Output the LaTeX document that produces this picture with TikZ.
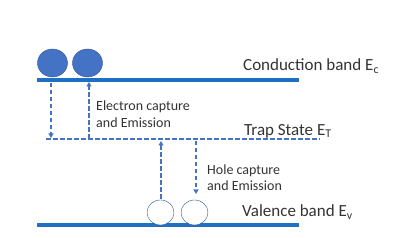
\documentclass[tikz,border=0pt]{standalone}
\usepackage{fontspec}
\setmainfont{Carlito}
\usepackage{xcolor}
\usetikzlibrary{arrows.meta,calc,shapes.geometric}
\definecolor{bandblue}{HTML}{1F6FC2}
\definecolor{officeblue}{HTML}{4472C4}
\definecolor{rimblue}{HTML}{2F528F}
\tikzset{
  bd band/.style={
    line width=4pt,
    draw=bandblue,
  },
  bd trap/.style={
    line width=1.2pt,
    draw=officeblue,
    dash pattern=on 4.5pt off 2.5pt,
  },
  bd electron/.style={
    ellipse,
    minimum width=30pt,
    minimum height=28pt,
    inner sep=0pt,
    fill=officeblue,
    draw=rimblue,
    thin,
  },
  bd hole/.style={
    ellipse,
    minimum width=27pt,
    minimum height=25pt,
    inner sep=0pt,
    fill=white,
    draw=rimblue,
    thin,
  },
  bd arrow/.style={-{Triangle[length=4.5pt,width=5pt]}, bd trap},
  bd label/.style={anchor=west, inner sep=0pt, font=\fontsize{17}{18}\selectfont, text=black!80},
  bd note/.style={anchor=west, inner sep=0pt, align=left, font=\fontsize{14}{16.5}\selectfont, text=black!80},
}
\begin{document}
\begin{tikzpicture}[x=1pt,y=-1pt]
  \useasboundingbox (0,0) rectangle (400,238);

  % band edges
  \coordinate (cb west) at (37,80);
  \coordinate (cb east) at (299,80);
  \coordinate (tr west) at (46,139);
  \coordinate (tr east) at (320,139);
  \coordinate (vb west) at (37,225);
  \coordinate (vb east) at (299,225);

  \draw[bd band] (cb west) -- (cb east);
  \draw[bd trap] (tr west) -- (tr east);
  \draw[bd band] (vb west) -- (vb east);

  \node[bd electron] (e1) at (52.5,63) {};
  \node[bd electron] (e2) at (87.5,63) {};
  \node[bd hole] (h1) at (160.5,212.5) {};
  \node[bd hole] (h2) at (194.5,212.5) {};

  \node[bd label] (cb) at (243,66) {Conduction band E\textsubscript{c}};
  \node[bd label] (tr) at (244,131) {Trap State E\textsubscript{T}};
  \node[bd label] (vb) at (242,212) {Valence band E\textsubscript{v}};

  \node[bd note] (ecap) at (96,114) {Electron capture\\and Emission};
  \node[bd note] (hcap) at (207,177.5) {Hole capture\\and Emission};

  % capture and emission
  \coordinate (e1 top) at (51,83);
  \coordinate (e1 bot) at (51,138);
  \coordinate (e2 top) at (89,82);
  \coordinate (e2 bot) at (89,139);
  \coordinate (h1 top) at (161,141);
  \coordinate (h1 bot) at (161,199);
  \coordinate (h2 top) at (196,141);
  \coordinate (h2 bot) at (196,194);

  \draw[bd arrow] (e1 top) -- (e1 bot);
  \draw[bd arrow] (e2 bot) -- (e2 top);
  \draw[bd arrow] (h1 bot) -- (h1 top);
  \draw[bd arrow] (h2 top) -- (h2 bot);
\end{tikzpicture}
\end{document}
